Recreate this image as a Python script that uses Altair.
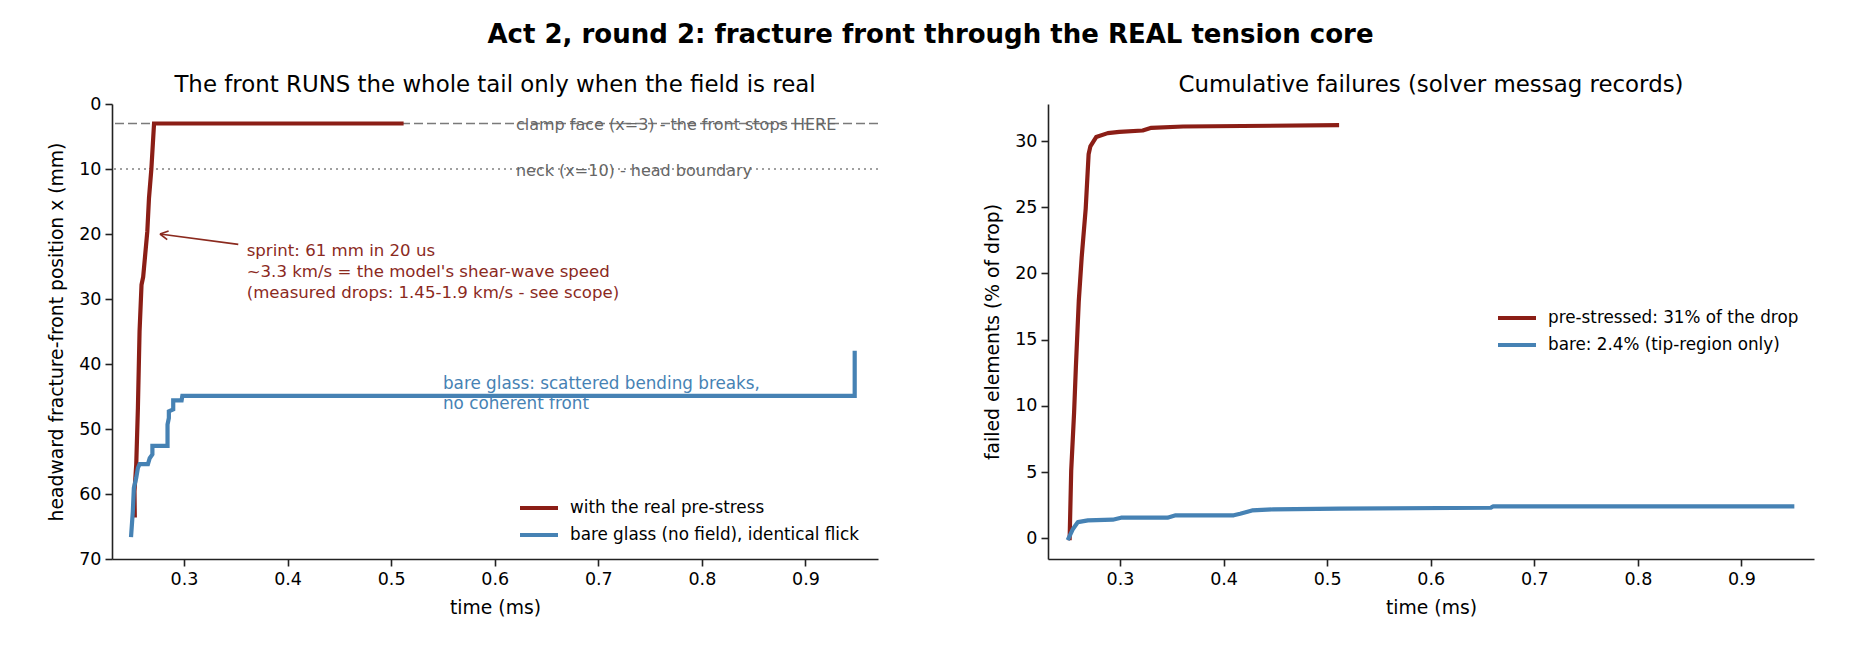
import altair as alt
import pandas as pd

# ---------------- data ----------------
# left panel: headward fracture-front position x (mm) vs time (ms)
red_front_t = [0.2525, 0.2522, 0.2539, 0.2555, 0.2571, 0.2590, 0.2606, 0.2646, 0.2662, 0.2685, 0.2711, 0.5100]
red_front_x = [63.3, 59.6, 55.5, 46.8, 35.0, 27.8, 26.6, 19.6, 14.5, 10.0, 3.0, 3.0]

blue_front_t = [0.2490, 0.2506, 0.2516, 0.2539, 0.2555, 0.2571, 0.2652, 0.2669, 0.2695, 0.2695,
                0.2841, 0.2841, 0.2854, 0.2854, 0.2896, 0.2896, 0.2977, 0.2984, 0.9475, 0.9475]
blue_front_x = [66.3, 62.7, 59.1, 57.5, 56.0, 55.4, 55.4, 54.5, 53.9, 52.6,
                52.6, 49.3, 48.3, 47.3, 47.0, 45.6, 45.6, 44.9, 44.9, 38.3]

# right panel: failed elements (% of drop) vs time (ms)
red_fail_t = [0.2514, 0.2529, 0.2557, 0.2574, 0.2602, 0.2630, 0.2669, 0.2697, 0.2714, 0.2770,
              0.2882, 0.2994, 0.3219, 0.3303, 0.3610, 0.5095]
red_fail_y = [0.0, 5.1, 9.5, 12.9, 17.9, 21.2, 24.9, 29.0, 29.6, 30.3,
              30.6, 30.7, 30.8, 31.0, 31.1, 31.2]

blue_fail_t = [0.2504, 0.2546, 0.2594, 0.2690, 0.2930, 0.3010, 0.3458, 0.3538, 0.4098, 0.4160,
               0.4275, 0.4480, 0.5120, 0.6580, 0.6600, 0.9490]
blue_fail_y = [0.0, 0.7, 1.22, 1.35, 1.40, 1.55, 1.55, 1.73, 1.73, 1.85,
               2.10, 2.18, 2.23, 2.30, 2.40, 2.40]

left_labels = ["with the real pre-stress", "bare glass (no field), identical flick"]
right_labels = ["pre-stressed: 31% of the drop", "bare: 2.4% (tip-region only)"]

x_ticks = [0.3, 0.4, 0.5, 0.6, 0.7, 0.8, 0.9]
left_y_ticks = [0, 10, 20, 30, 40, 50, 60, 70]
right_y_ticks = [0, 5, 10, 15, 20, 25, 30]

clamp_x = [3]
neck_x = [10]

# annotations (time, position, text)
gray_notes_t = [0.6205, 0.6205]
gray_notes_x = [3.94, 11.13]
gray_notes_text = ["clamp face (x=3) - the front stops HERE", "neck (x=10) - head boundary"]

sprint_t = [0.3605]
sprint_x = [23.43]
sprint_text = ["sprint: 61 mm in 20 us\n~3.3 km/s = the model's shear-wave speed\n(measured drops: 1.45-1.9 km/s - see scope)"]

arrow_tail_t = [0.3524]
arrow_tail_x = [21.6]
arrow_tip_t = [0.2768]
arrow_tip_x = [20.0]

bare_t = [0.5500]
bare_x = [43.8]
bare_text = ["bare glass: scattered bending breaks,\nno coherent front"]

RED = "#8b1e16"
RED_TXT = "#8b2a1e"
BLUE = "#4682b4"
GRAY_LINE = "#7a7a7a"
GRAY_DOT = "#a0a0a0"
GRAY_TXT = "#666666"

FONT = "DejaVu Sans"

# ---------------- tables ----------------
def series_frame(ts, vs, label):
    return pd.DataFrame({"t": ts, "v": vs, "series": label, "i": list(range(len(ts)))})

front = pd.concat([series_frame(red_front_t, red_front_x, left_labels[0]),
                   series_frame(blue_front_t, blue_front_x, left_labels[1])], ignore_index=True)
fails = pd.concat([series_frame(red_fail_t, red_fail_y, right_labels[0]),
                   series_frame(blue_fail_t, blue_fail_y, right_labels[1])], ignore_index=True)

W, H = 766, 455
LW = 4.2
xscale = alt.Scale(domain=[0.2305, 0.970], nice=False, zero=False)
xaxis = alt.Axis(values=x_ticks, format=".1f", title="time (ms)", titlePadding=11)

legend_common = dict(orient="none", title=None, symbolType="stroke", symbolStrokeWidth=4,
                     symbolSize=1444, clipHeight=22, rowPadding=5, labelFontSize=16.8,
                     labelOffset=10, labelFont=FONT, labelColor="#000", labelLimit=600)

# ---------------- left panel ----------------
lyscale = alt.Scale(domain=[0, 70], reverse=True, nice=False, zero=False)
lyaxis = alt.Axis(values=left_y_ticks, title="headward fracture-front position x (mm)",
                  minExtent=36, maxExtent=36, titlePadding=10)

left_lines = alt.Chart(front).mark_line(strokeWidth=LW, strokeCap="square", strokeJoin="miter").encode(
    x=alt.X("t:Q", scale=xscale, axis=xaxis),
    y=alt.Y("v:Q", scale=lyscale, axis=lyaxis),
    color=alt.Color("series:N", scale=alt.Scale(domain=left_labels, range=[RED, BLUE]),
                    legend=alt.Legend(legendX=406, legendY=393, **legend_common)),
    order="i:Q",
)

clamp_rule = alt.Chart(pd.DataFrame({"y": clamp_x})).mark_rule(
    color=GRAY_LINE, strokeWidth=1.5, strokeDash=[9, 4]).encode(y=alt.Y("y:Q", scale=lyscale))
neck_rule = alt.Chart(pd.DataFrame({"y": neck_x})).mark_rule(
    color=GRAY_DOT, strokeWidth=1.8, strokeDash=[2, 4]).encode(y=alt.Y("y:Q", scale=lyscale))

gray_notes = alt.Chart(pd.DataFrame({"t": gray_notes_t, "x": gray_notes_x, "s": gray_notes_text})).mark_text(
    align="left", baseline="alphabetic", fontSize=16, color=GRAY_TXT, font=FONT).encode(
    x=alt.X("t:Q", scale=xscale), y=alt.Y("x:Q", scale=lyscale), text="s:N")

sprint = alt.Chart(pd.DataFrame({"t": sprint_t, "x": sprint_x, "s": sprint_text})).mark_text(
    align="left", baseline="alphabetic", fontSize=16.6, color=RED_TXT, font=FONT,
    lineBreak="\n", lineHeight=20.8).encode(
    x=alt.X("t:Q", scale=xscale), y=alt.Y("x:Q", scale=lyscale), text="s:N")

arrow_df = pd.DataFrame({"t": arrow_tail_t, "x": arrow_tail_x, "t2": arrow_tip_t, "x2": arrow_tip_x})
arrow_line = alt.Chart(arrow_df).mark_rule(color=RED_TXT, strokeWidth=1.6).encode(
    x=alt.X("t:Q", scale=xscale), y=alt.Y("x:Q", scale=lyscale), x2="t2:Q", y2="x2:Q")
arrow_head = alt.Chart(arrow_df).mark_point(
    shape="M0,0L1,-0.55M0,0L1,0.55", filled=False, size=260, color=RED_TXT,
    strokeWidth=1.6, angle=9, opacity=1).encode(
    x=alt.X("t2:Q", scale=xscale), y=alt.Y("x2:Q", scale=lyscale))

bare = alt.Chart(pd.DataFrame({"t": bare_t, "x": bare_x, "s": bare_text})).mark_text(
    align="left", baseline="alphabetic", fontSize=16.8, color=BLUE, font=FONT,
    lineBreak="\n", lineHeight=20.3).encode(
    x=alt.X("t:Q", scale=xscale), y=alt.Y("x:Q", scale=lyscale), text="s:N")

left = alt.layer(clamp_rule, neck_rule, left_lines, gray_notes, sprint, arrow_line, arrow_head, bare).properties(
    width=W, height=H,
    title=alt.TitleParams("The front RUNS the whole tail only when the field is real",
                          fontSize=22.9, fontWeight="normal", font=FONT, offset=-2, anchor="middle"))

# ---------------- right panel ----------------
ryscale = alt.Scale(domain=[-1.57, 32.8], nice=False, zero=False)
ryaxis = alt.Axis(values=right_y_ticks, title="failed elements (% of drop)",
                  minExtent=36, maxExtent=36, titlePadding=10)

right = alt.Chart(fails).mark_line(strokeWidth=LW, strokeCap="square", strokeJoin="round").encode(
    x=alt.X("t:Q", scale=xscale, axis=xaxis),
    y=alt.Y("v:Q", scale=ryscale, axis=ryaxis),
    color=alt.Color("series:N", scale=alt.Scale(domain=right_labels, range=[RED, BLUE]),
                    legend=alt.Legend(legendX=448, legendY=203, **legend_common)),
    order="i:Q",
).properties(
    width=W, height=H,
    title=alt.TitleParams("Cumulative failures (solver messag records)",
                          fontSize=22.9, fontWeight="normal", font=FONT, offset=7, anchor="middle"))

chart = alt.hconcat(left, right, spacing=104).resolve_scale(color="independent").resolve_legend(
    color="independent").properties(
    title=alt.TitleParams("Act 2, round 2: fracture front through the REAL tension core",
                          fontSize=26, fontWeight="bold", font=FONT, anchor="middle", offset=26),
    padding={"left": 39, "top": 14, "right": 5, "bottom": 5},
).configure_view(stroke=None).configure_axis(
    domainColor="#222", domainWidth=1.6, tickColor="#222", tickWidth=1.6, tickSize=7,
    labelFontSize=17.5, labelFont=FONT, labelColor="#000", labelPadding=4,
    titleFontSize=18.75, titleFont=FONT, titleFontWeight="normal", titleColor="#000", grid=False,
).configure_title(color="#000")

chart.save("out.html", embed_options={"renderer": "svg", "actions": False})
